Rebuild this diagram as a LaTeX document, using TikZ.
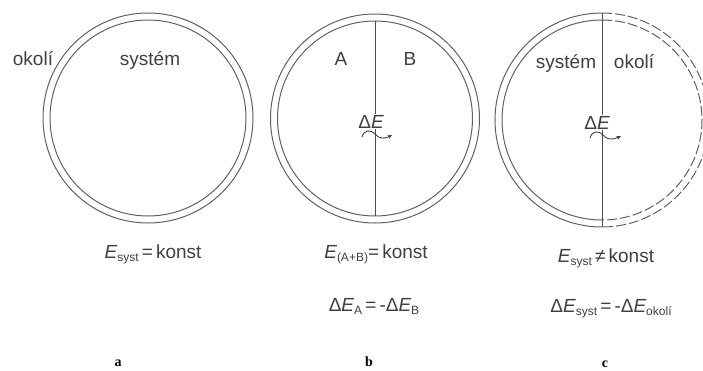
\documentclass[tikz,border=0pt]{standalone}
\usepackage{fontspec}
\setmainfont{Liberation Sans}
\newfontfamily\labelfont{Liberation Serif}
\usetikzlibrary{arrows.meta}
\definecolor{linegray}{gray}{0.38}
\definecolor{textgray}{gray}{0.25}
\newcommand\lowsub[1]{\raisebox{-0.35ex}{\fontsize{12}{12}\selectfont #1}}
\newcommand\EE{{\itshape E}}
\begin{document}
\begin{tikzpicture}[x=1pt,y=-1pt,
  ring/.style={draw=linegray, line width=1pt},
  dashring/.style={draw=linegray, line width=1pt, dash pattern=on 10pt off 3pt},
  divider/.style={draw=linegray!80!black, line width=0.9pt},
  txt/.style={text=textgray, font=\fontsize{19}{19}\selectfont, inner sep=0pt, anchor=base},
  formula/.style={text=textgray, font=\fontsize{19}{19}\selectfont, inner sep=0pt, anchor=base},
  sublabel/.style={text=black, font=\labelfont\bfseries\fontsize{14}{14}\selectfont, inner sep=0pt, anchor=base},
  wave/.style={draw=textgray, line width=0.9pt, -{Stealth[length=4.5pt,width=4pt]}}
]
\useasboundingbox (0,0) rectangle (703,370);
\fill[white] (0,0) rectangle (703,370);

% ---- circle a ----
\coordinate (ca) at (148,118);
\draw[ring] (ca) circle (105pt);
\draw[ring] (ca) circle (98pt);
\node[txt] (okoliA) at (33,65) {okolí};
\node[txt] (systemA) at (150,65) {systém};

% ---- circle b ----
\coordinate (cbc) at (375,118.5);
\draw[ring] (cbc) circle (104.5pt);
\draw[ring] (cbc) circle (97.5pt);
\coordinate (btop) at (375,21);
\coordinate (bbot) at (375,216);
\draw[divider] (btop) -- (bbot);
\node[txt] (A) at (341,65) {A};
\node[txt] (B) at (410,65) {B};
\node[txt, fill=white, inner sep=0.5pt] (dEb) at (371,128) {Δ\EE};
\coordinate (wbs) at (362,137);
\coordinate (wbm) at (375,134);
\coordinate (wbe) at (392,135);
\draw[wave] (wbs) .. controls (364,130) and (370,129) .. (wbm) .. controls (379,139) and (385,139) .. (wbe);

% ---- circle c ----
\coordinate (ccc) at (602,120);
\draw[ring] ([shift={(90:107pt)}]ccc) arc[start angle=90, end angle=270, radius=107pt];
\draw[ring] ([shift={(90:100pt)}]ccc) arc[start angle=90, end angle=270, radius=100pt];
\draw[dashring] ([shift={(90:107pt)}]ccc) arc[start angle=90, end angle=-90, radius=107pt];
\draw[dashring] ([shift={(90:100pt)}]ccc) arc[start angle=90, end angle=-90, radius=100pt];
\coordinate (ctop) at (602,13);
\coordinate (cbot) at (602,227);
\draw[divider] (ctop) -- (cbot);
\node[txt] (systemC) at (566,68) {systém};
\node[txt] (okoliC) at (634,68) {okolí};
\node[txt, fill=white, inner sep=0.5pt] (dEc) at (597,129) {Δ\EE};
\coordinate (wcs) at (590,138);
\coordinate (wcm) at (603,135);
\coordinate (wce) at (621,136);
\draw[wave] (wcs) .. controls (592,131) and (598,130) .. (wcm) .. controls (607,140) and (613,140) .. (wce);

% ---- formulas ----
\node[formula] (fa) at (153,258) {\EE\lowsub{syst}\,=\,konst};
\node[formula] (fb1) at (376,258) {\EE\lowsub{(A+B)}=\,konst};
\node[formula] (fb2) at (374,311) {Δ\EE\lowsub{A}\,=\,-Δ\EE\lowsub{B}};
\node[formula] (fc1) at (606,262) {\EE\lowsub{syst}\,≠\,konst};
\node[formula] (fc2) at (611,312) {Δ\EE\lowsub{syst}\,=\,-Δ\EE\lowsub{okolí}};

% ---- sub-figure labels ----
\node[sublabel] (la) at (118,366) {a};
\node[sublabel] (lb) at (369,366) {b};
\node[sublabel] (lc) at (605,367) {c};
\end{tikzpicture}
\end{document}
